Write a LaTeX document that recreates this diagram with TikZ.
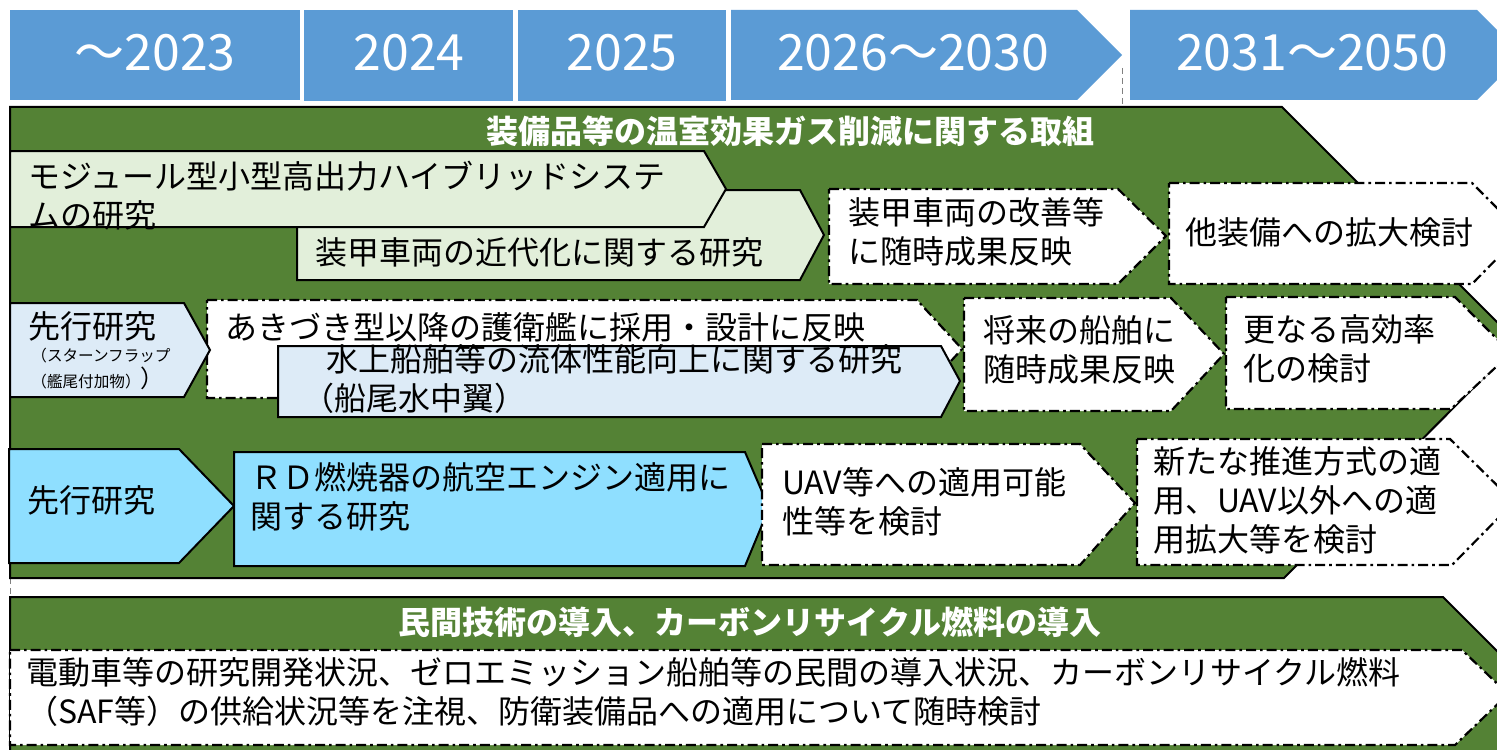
\documentclass[tikz,border=0pt]{standalone}
\usepackage{fontspec}
\setmainfont{Noto Sans CJK JP}
\definecolor{hdr}{HTML}{5B9BD5}
\definecolor{pgreen}{HTML}{548235}
\definecolor{lgreen}{HTML}{E2EFDA}
\definecolor{lblue}{HTML}{DDEBF7}
\definecolor{sky}{HTML}{8FDFFF}
\begin{document}
\begin{tikzpicture}[x=0.5pt,y=-0.5pt,
  solidbox/.style={draw=black, line width=1pt},
  dashbox/.style={draw=black, fill=white, line width=1.1pt, dash pattern=on 5pt off 2pt on 1.3pt off 2pt},
  txt/.style={anchor=west, align=left, inner sep=0pt, font=\fontsize{16}{19.5}\selectfont},
  smalltxt/.style={anchor=west, inner sep=0pt, font=\fontsize{7.8}{9}\selectfont},
  yeartxt/.style={text=white, inner sep=0pt, font=\fontsize{25}{29}\selectfont},
  headtxt/.style={text=white, inner sep=0pt, font=\bfseries\fontsize{16}{19}\selectfont},
  thinline/.style={gray, line width=0.3pt, densely dashed}]
\useasboundingbox (0,0) rectangle (1497,749);
\clip (0,0) rectangle (1497,749);

% ---- header years
\fill[hdr] (10,10) rectangle (300,100);
\fill[hdr] (304,10) rectangle (513,101);
\fill[hdr] (518,10) rectangle (726,101);
\fill[hdr] (731,10) -- (1077,10) -- (1122,55) -- (1077,100) -- (731,100) -- cycle;
\fill[hdr] (1130,10) -- (1477,10) -- (1522,55) -- (1477,100) -- (1130,100) -- cycle;
\node[yeartxt] (y1) at (155,53) {～2023};
\node[yeartxt] (y2) at (409,53) {2024};
\node[yeartxt] (y3) at (622,53) {2025};
\node[yeartxt] (y4) at (913,53) {2026～2030};
\node[yeartxt] (y5) at (1312,53) {2031～2050};

\draw[thinline] (1122,68) -- (1122,107);
\draw[thinline] (10,578) -- (10,597);

% ---- panel 1
\draw[fill=pgreen, line width=1pt] (10,107) -- (1282,107) -- (1518,343) -- (1284,578) -- (10,578) -- cycle;
\node[headtxt] (h1) at (790,131) {装備品等の温室効果ガス削減に関する取組};

% row 1
\draw[solidbox, fill=lgreen] (297,190) -- (800,190) -- (824,235) -- (800,280) -- (297,280) -- cycle;
\draw[solidbox, fill=lgreen] (10,151) -- (704,151) -- (726,189) -- (704,227) -- (10,227) -- cycle;
\draw[dashbox] (829,189) -- (1118,189) -- (1166,236) -- (1118,284) -- (829,284) -- cycle;
\draw[dashbox] (1169,183) -- (1472,183) -- (1522,233) -- (1472,284) -- (1169,284) -- cycle;
\node[txt] (ta) at (28,196) {モジュール型小型高出力ハイブリッドシステ\\ムの研究};
\node[txt] (tb) at (315,252) {装甲車両の近代化に関する研究};
\node[txt] (tc) at (848,232) {装甲車両の改善等\\に随時成果反映};
\node[txt] (td) at (1185,232) {他装備への拡大検討};

% row 2
\draw[dashbox] (207,300) -- (917,300) -- (962,349) -- (917,398) -- (207,398) -- cycle;
\draw[solidbox, fill=lblue] (10,303) -- (184,303) -- (210,350) -- (184,397) -- (10,397) -- cycle;
\draw[solidbox, fill=lblue] (278,346) -- (941,346) -- (960,381) -- (941,417) -- (278,417) -- cycle;
\draw[dashbox] (964,298) -- (1171,298) -- (1224,354) -- (1171,411) -- (964,411) -- cycle;
\draw[dashbox] (1226,297) -- (1455,297) -- (1511,353) -- (1451,409) -- (1226,409) -- cycle;
\node[txt] (te1) at (28,326) {先行研究};
\node[smalltxt] (te2) at (31,356) {（スターンフラップ};
\node[smalltxt] (te3) at (31,378) {（艦尾付加物）{\fontsize{12}{14}\selectfont ）}};
\node[txt] (tf) at (225,327) {あきづき型以降の護衛艦に採用・設計に反映};
\node[txt] (tg) at (302,379) {\hspace*{12pt}水上船舶等の流体性能向上に関する研究\\（船尾水中翼）};
\node[txt] (th) at (983,350) {将来の船舶に\\随時成果反映};
\node[txt] (ti) at (1243,349) {更なる高効率\\化の検討};

% row 3
\draw[solidbox, fill=sky] (9,449) -- (179,449) -- (234,506) -- (179,563) -- (9,563) -- cycle;
\draw[solidbox, fill=sky] (234,452) -- (745,452) -- (769,508) -- (745,566) -- (234,566) -- cycle;
\draw[dashbox] (762,444) -- (1080,444) -- (1135,503) -- (1080,565) -- (762,565) -- cycle;
\draw[dashbox] (1137,439) -- (1450,439) -- (1514,502) -- (1452,565) -- (1137,565) -- cycle;
\node[txt] (tj) at (27,500) {先行研究};
\node[txt] (tk) at (250,497) {ＲＤ燃焼器の航空エンジン適用に\\関する研究};
\node[txt] (tl) at (782,502) {UAV等への適用可能\\性等を検討};
\node[txt] (tm) at (1153,500) {新たな推進方式の適\\用、UAV以外への適\\用拡大等を検討};

% ---- panel 2
\fill[pgreen] (10,597) -- (1443,597) -- (1610,764) -- (10,764) -- cycle;
\draw[line width=1pt] (10,764) -- (10,597) -- (1443,597) -- (1610,764);
\node[headtxt] (h2) at (750,622) {民間技術の導入、カーボンリサイクル燃料の導入};
\draw[dashbox] (10,650) -- (1462,650) -- (1508,694) -- (1455,745) -- (10,745) -- cycle;
\node[txt] (tn) at (26,692) {電動車等の研究開発状況、ゼロエミッション船舶等の民間の導入状況、カーボンリサイクル燃料\\（SAF等）の供給状況等を注視、防衛装備品への適用について随時検討};
\end{tikzpicture}
\end{document}
